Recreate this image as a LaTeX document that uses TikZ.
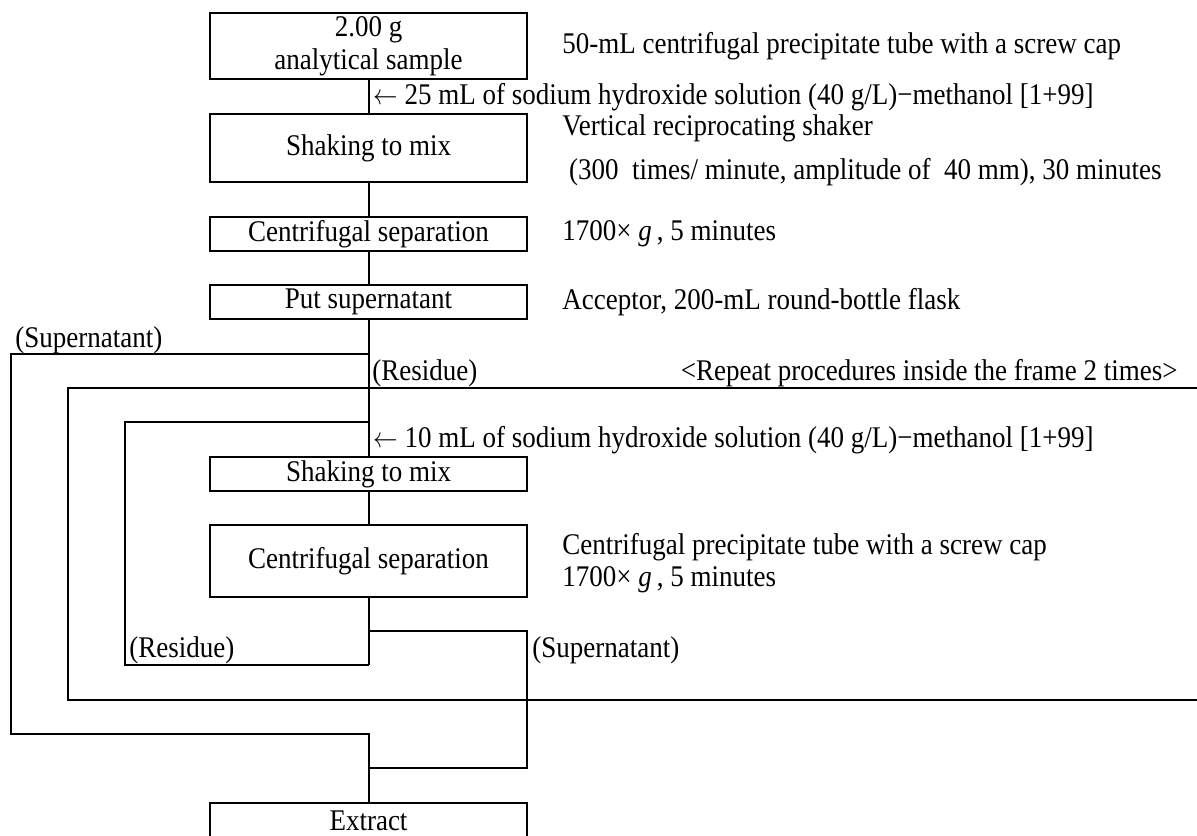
\documentclass[tikz,border=0pt]{standalone}
\usepackage{fontspec}
\setmainfont{Liberation Serif}[FakeStretch=0.9]
\newcommand{\larr}{\scalebox{0.85}[1]{$\leftarrow$}}
\begin{document}
\begin{tikzpicture}[x=0.5pt,y=-0.5pt,
  every node/.style={font=\fontsize{15pt}{16.5pt}\selectfont, inner sep=0pt},
  box/.style={draw, line width=1pt, minimum width=158.5pt, align=center},
  lbl/.style={anchor=west},
  conn/.style={line width=1pt},
  frameline/.style={line width=1.2pt}]
\useasboundingbox (0,0) rectangle (1197,835);
% boxes
\node[box, minimum height=33pt] (b1) at (368.5,46) {2.00 g\\analytical sample};
\node[box, minimum height=34pt] (b2) at (368.5,148) {Shaking to mix};
\node[box, minimum height=17pt] (b3) at (368.5,234) {Centrifugal separation};
\node[box, minimum height=17pt] (b4) at (368.5,302) {Put supernatant};
\node[box, minimum height=17pt] (b5) at (368.5,474) {Shaking to mix};
\node[box, minimum height=36pt] (b6) at (368.5,561) {Centrifugal separation};
\node[box, minimum height=18pt] (ex) at (368.5,821) {Extract};
% side labels
\node[lbl] (t1) at (562,46) {50-mL centrifugal precipitate tube with a screw cap};
\node[lbl] (t2) at (373,97) {\larr\ 25 mL of sodium hydroxide solution (40 g/L)−methanol [1+99]};
\node[lbl] (t3) at (562,128) {Vertical reciprocating shaker};
\node[lbl] (t4) at (562,172) {\ (300\ \ times/ minute, amplitude of\ \ 40 mm), 30 minutes};
\node[lbl] (t5) at (562,234) {1700× \textit{g}\,, 5 minutes};
\node[lbl] (t6) at (562,302) {Acceptor, 200-mL round-bottle flask};
\node[lbl] (t7) at (15,340) {(Supernatant)};
\node[lbl] (t8) at (372,373) {(Residue)};
\node[anchor=east] (t9) at (1178,373) {<Repeat procedures inside the frame 2 times>};
\node[lbl] (t10) at (373,440) {\larr\ 10 mL of sodium hydroxide solution (40 g/L)−methanol [1+99]};
\node[lbl] (t11) at (562,547) {Centrifugal precipitate tube with a screw cap};
\node[lbl] (t12) at (562,580) {1700× \textit{g}\,, 5 minutes};
\node[lbl] (t13) at (129,650) {(Residue)};
\node[lbl] (t14) at (532,650) {(Supernatant)};
% junctions
\coordinate (sup) at (368.5,354);
\coordinate (supL) at (11,354);
\coordinate (supJ) at (368.5,734);
\coordinate (resTop) at (368.5,422);
\coordinate (resL) at (125,422);
\coordinate (resB) at (368.5,665);
\coordinate (brR) at (368.5,631);
\coordinate (brC) at (527,631);
\coordinate (brJ) at (368.5,768);
% main flow
\draw[conn] (b1) -- (b2);
\draw[conn] (b2) -- (b3);
\draw[conn] (b3) -- (b4);
\draw[conn] (b4) -- (b5);
\draw[conn] (b5) -- (b6);
\draw[conn] (b6) -- (resB);
% outer supernatant loop
\draw[conn] (sup) -- (supL) |- (supJ) -- (ex);
% residue loop
\draw[conn] (resB) -| (resL) -- (resTop);
% supernatant branch
\draw[conn] (brR) -- (brC) |- (brJ);
% repeat frame
\draw[frameline] (1197,388) -- (68,388) -- (68,700) -- (1197,700);
\end{tikzpicture}
\end{document}
